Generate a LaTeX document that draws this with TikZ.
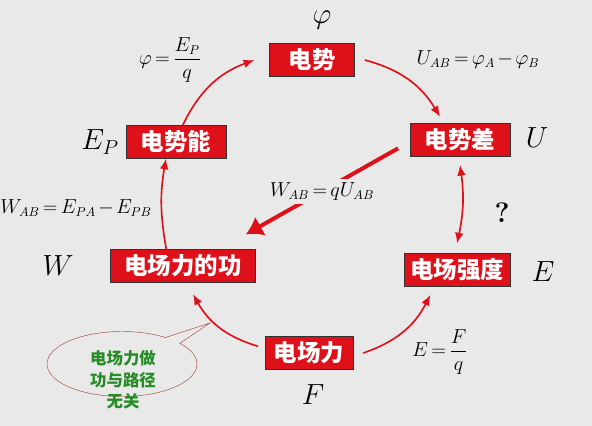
\documentclass[tikz,border=0pt]{standalone}
\usepackage{amsmath}
\usepackage{fontspec}
\usetikzlibrary{arrows.meta,shapes.callouts,positioning}
\newfontfamily\cjk{Noto Sans CJK SC}
\newcommand{\tightmath}{\thickmuskip=3mu plus 1mu\relax\medmuskip=2mu\relax}
\definecolor{boxred}{RGB}{222,16,26}
\definecolor{paper}{RGB}{233,233,233}
\definecolor{notegreen}{RGB}{38,140,38}
\definecolor{noteline}{RGB}{165,75,65}
\tikzset{
  concept/.style={draw=black!80, fill=boxred, text=white, minimum height=0.98cm, inner sep=1pt, align=center, font=\cjk\bfseries\fontsize{20}{22}\selectfont},
  symbol/.style={inner sep=1pt, font=\fontsize{23}{25}\selectfont},
  formula/.style={text=black, inner sep=1pt, font=\fontsize{16}{18}\selectfont\tightmath},
  link/.style={-{Latex[length=3.2mm,width=2.6mm]}, line width=1.4pt, boxred},
  twolink/.style={{Latex[length=3.2mm,width=2.6mm]}-{Latex[length=3.2mm,width=2.6mm]}, line width=1.4pt, boxred},
  bigflow/.style={-{Latex[length=5mm,width=6.5mm]}, line width=3.4pt, boxred},
  note/.style={ellipse callout, draw=noteline, thin, minimum width=4.5cm, minimum height=1.95cm},
  notetext/.style={align=center, text=notegreen, font=\cjk\bfseries\fontsize{14}{18.5}\selectfont}
}

\begin{document}
\begin{tikzpicture}[x=0.03cm,y=-0.03cm]
  \fill[paper] (0,0) rectangle (592,426);
  \useasboundingbox (0,0) rectangle (592,426);

  % concept boxes
  \node[concept, minimum width=2.55cm] (pot) at (312,60) {电势};
  \node[concept, minimum width=3.0cm] (potdiff) at (460,140) {电势差};
  \node[concept, minimum width=3.0cm] (epot) at (176,142) {电势能};
  \node[concept, minimum width=4.35cm] (work) at (183,266) {电场力的功};
  \node[concept, minimum width=3.18cm] (field) at (457,270) {电场强度};
  \node[concept, minimum width=2.64cm] (force) at (309,353) {电场力};

  % symbols
  \node[symbol] (phi) at (322,20) {$\varphi$};
  \node[symbol] (ep) at (100,142) {$E_P$};
  \node[symbol] (u) at (537,138) {$U$};
  \node[symbol] (w) at (58,266) {$W$};
  \node[symbol] (e) at (543,272) {$E$};
  \node[symbol] (f) at (313,395) {$F$};
  \node[symbol, font=\bfseries\fontsize{24}{26}\selectfont] (ask) at (502,213) {?};

  % formulas
  \node[formula] (phidef) at (170,60) {$\varphi=\dfrac{E_P}{q}$};
  \node[formula] (udef) at (478,60) {$U_{AB}=\varphi_A-\varphi_B$};
  \node[formula] (wdef) at (76,208) {$W_{AB}=E_{PA}-E_{PB}$};
  \node[formula] (edef) at (440,352) {$E=\dfrac{F}{q}$};

  % links
  \draw[link] ([xshift=-0.5cm]work.north) to[bend left=10] ([xshift=-0.3cm]epot.south);
  \draw[link] ([xshift=0.2cm]epot.north) to[bend left=22] ([xshift=-0.45cm]pot.west);
  \draw[link] ([xshift=0.3cm]pot.east) to[bend left=22] ([xshift=-0.6cm,yshift=0.2cm]potdiff.north);
  \draw[twolink] ([yshift=-0.25cm]potdiff.south) to[bend left=10] ([yshift=0.3cm]field.north);
  \draw[link] ([xshift=0.3cm]force.east) to[bend right=22] ([xshift=-0.8cm,yshift=-0.25cm]field.south);
  \draw[link] ([xshift=-0.2cm,yshift=0.2cm]force.west) to[bend left=22] ([xshift=0.3cm,yshift=-0.35cm]work.south);
  \draw[bigflow] ([xshift=-0.35cm,yshift=-0.25cm]potdiff.west) -- ([xshift=-0.3cm,yshift=0.45cm]work.north east)
    node[midway, fill=paper, formula, inner sep=3pt] (wq) {$W_{AB}=qU_{AB}$};

  % callout
  \coordinate (tip) at (210,323);
  \node[note, callout absolute pointer=(tip)] (bubble) at (122,364) {};
  \node[notetext] (bubbletext) at (123,380) {电场力做\\功与路径\\无关};
\end{tikzpicture}
\end{document}
